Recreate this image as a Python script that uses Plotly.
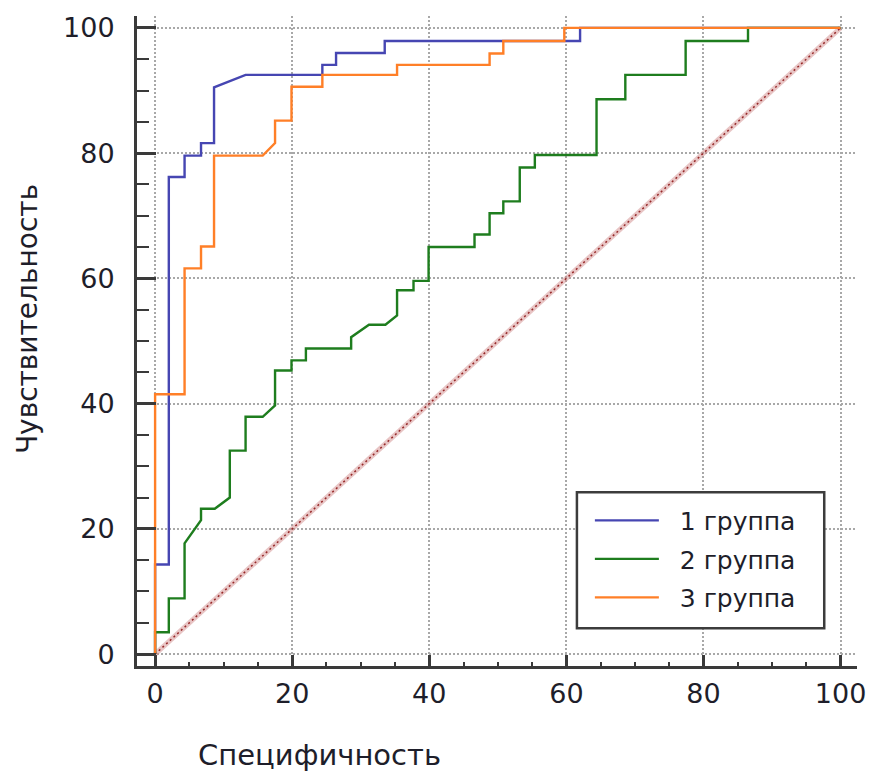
import plotly.graph_objects as go

# ROC curves: x = 100 - specificity (%), y = sensitivity (%)
group_names = ["1 группа", "2 группа", "3 группа"]

x1 = [0, 0, 2.0, 2.0, 4.3, 4.3, 6.7, 6.7, 8.6, 8.6, 13.2, 24.4, 24.4, 26.4, 26.4, 33.5, 33.5, 62.0, 62.0, 100]
y1 = [0, 14.3, 14.3, 76.2, 76.2, 79.6, 79.6, 81.6, 81.6, 90.5, 92.5, 92.5, 94.1, 94.1, 96.0, 96.0, 97.9, 97.9, 100, 100]

x2 = [0, 0, 2.0, 2.0, 4.3, 4.3, 6.7, 6.7, 8.7, 10.9, 10.9, 13.2, 13.2, 15.7, 17.5, 17.5,
      19.9, 19.9, 22.0, 22.0, 28.6, 28.6, 31.2, 33.6, 35.3, 35.3, 37.7, 37.7, 39.9, 39.9,
      46.6, 46.6, 48.8, 48.8, 50.8, 50.8, 53.2, 53.2, 55.4, 55.4, 64.4, 64.4, 68.6, 68.6,
      77.4, 77.4, 86.5, 86.5, 100]
y2 = [0, 3.5, 3.5, 8.9, 8.9, 17.7, 21.4, 23.2, 23.2, 25.0, 32.5, 32.5, 37.9, 37.9, 39.7, 45.3,
      45.3, 46.9, 46.9, 48.8, 48.8, 50.6, 52.6, 52.6, 54.1, 58.1, 58.1, 59.6, 59.6, 65.0,
      65.0, 67.0, 67.0, 70.4, 70.4, 72.3, 72.3, 77.7, 77.7, 79.7, 79.7, 88.6, 88.6, 92.5,
      92.5, 97.9, 97.9, 100, 100]

x3 = [0, 0, 4.3, 4.3, 6.7, 6.7, 8.6, 8.6, 15.7, 17.5, 17.5, 19.9, 19.9, 24.4, 24.4, 35.3,
      35.3, 48.8, 48.8, 50.8, 50.8, 59.7, 59.7, 100]
y3 = [0, 41.5, 41.5, 61.6, 61.6, 65.1, 65.1, 79.6, 79.6, 81.6, 85.2, 85.2, 90.6, 90.6, 92.5,
      92.5, 94.1, 94.1, 95.9, 95.9, 97.9, 97.9, 100, 100]

# reference (chance) diagonal
diag_x = [0, 100]
diag_y = [0, 100]

tick_vals = [0, 20, 40, 60, 80, 100]
tick_text = ["0", "20", "40", "60", "80", "100"]

colors = ["#4646b2", "#1e7d1e", "#ff7f27"]
ink = "#1e1e2a"
pad = "\u00a0\u00a0"

fig = go.Figure()

fig.add_trace(go.Scatter(x=diag_x, y=diag_y, mode="lines", showlegend=False, hoverinfo="skip",
                         line=dict(color="rgba(210,140,140,0.5)", width=5)))
fig.add_trace(go.Scatter(x=diag_x, y=diag_y, mode="lines", showlegend=False, hoverinfo="skip",
                         line=dict(color="#962828", width=1.5, dash="2px,3px")))

for name, xs, ys, c in zip(group_names, [x1, x2, x3], [y1, y2, y3], colors):
    fig.add_trace(go.Scatter(x=xs, y=ys, mode="lines", name=pad + name, legendgroup=name,
                             line=dict(color=c, width=2.4)))

axis_common = dict(
    showline=True, linecolor="#3a3a3a", linewidth=3, mirror=False,
    showgrid=True, gridcolor="#a8a8a8", gridwidth=1.5, griddash="2px,2px",
    zeroline=False, ticks="inside", tickcolor="#3a3a3a", tickwidth=2.5,
    tickmode="array", tickvals=tick_vals, ticktext=tick_text,
    tickfont=dict(family="DejaVu Sans", size=27, color=ink),
)

fig.update_xaxes(**axis_common, range=[-2.64, 102.4], ticklen=11, ticklabelstandoff=2,
                 minor=dict(dtick=5, tick0=0, ticks="inside", ticklen=4, tickwidth=2,
                            tickcolor="#3a3a3a", showgrid=False))
fig.update_yaxes(**axis_common, range=[-1.9, 101.9], ticklen=19, ticklabelstandoff=14,
                 minor=dict(dtick=5, tick0=0, ticks="inside", ticklen=12, tickwidth=2,
                            tickcolor="#3a3a3a", showgrid=False))

# legend frame (plot-area fractions)
box_x0, box_x1, box_y0, box_y1 = 0.611, 0.9545, 0.0582, 0.2672

fig.update_layout(
    width=878, height=773,
    margin=dict(l=137, r=16, t=13, b=107),
    paper_bgcolor="white", plot_bgcolor="white",
    font=dict(family="DejaVu Sans", color=ink),
    shapes=[dict(type="rect", xref="paper", yref="paper", layer="above",
                 x0=box_x0, x1=box_x1, y0=box_y0, y1=box_y1,
                 line=dict(color="#3c3c3c", width=2.5), fillcolor="white")],
    legend=dict(x=0.629, y=0.259, xanchor="left", yanchor="top",
                bgcolor="rgba(0,0,0,0)", borderwidth=0,
                font=dict(family="DejaVu Sans", size=25, color=ink),
                itemwidth=64, tracegroupgap=3),
    annotations=[
        dict(text="Чувствительность", xref="paper", yref="paper", x=-0.152, y=0.533,
             xanchor="center", yanchor="middle", textangle=-90, showarrow=False,
             font=dict(family="DejaVu Sans", size=28, color=ink)),
        dict(text="Специфичность", xref="paper", yref="paper", x=0.253, y=-0.137,
             xanchor="center", yanchor="middle", showarrow=False,
             font=dict(family="DejaVu Sans", size=29, color=ink)),
    ],
)

fig.write_html("out.html")
